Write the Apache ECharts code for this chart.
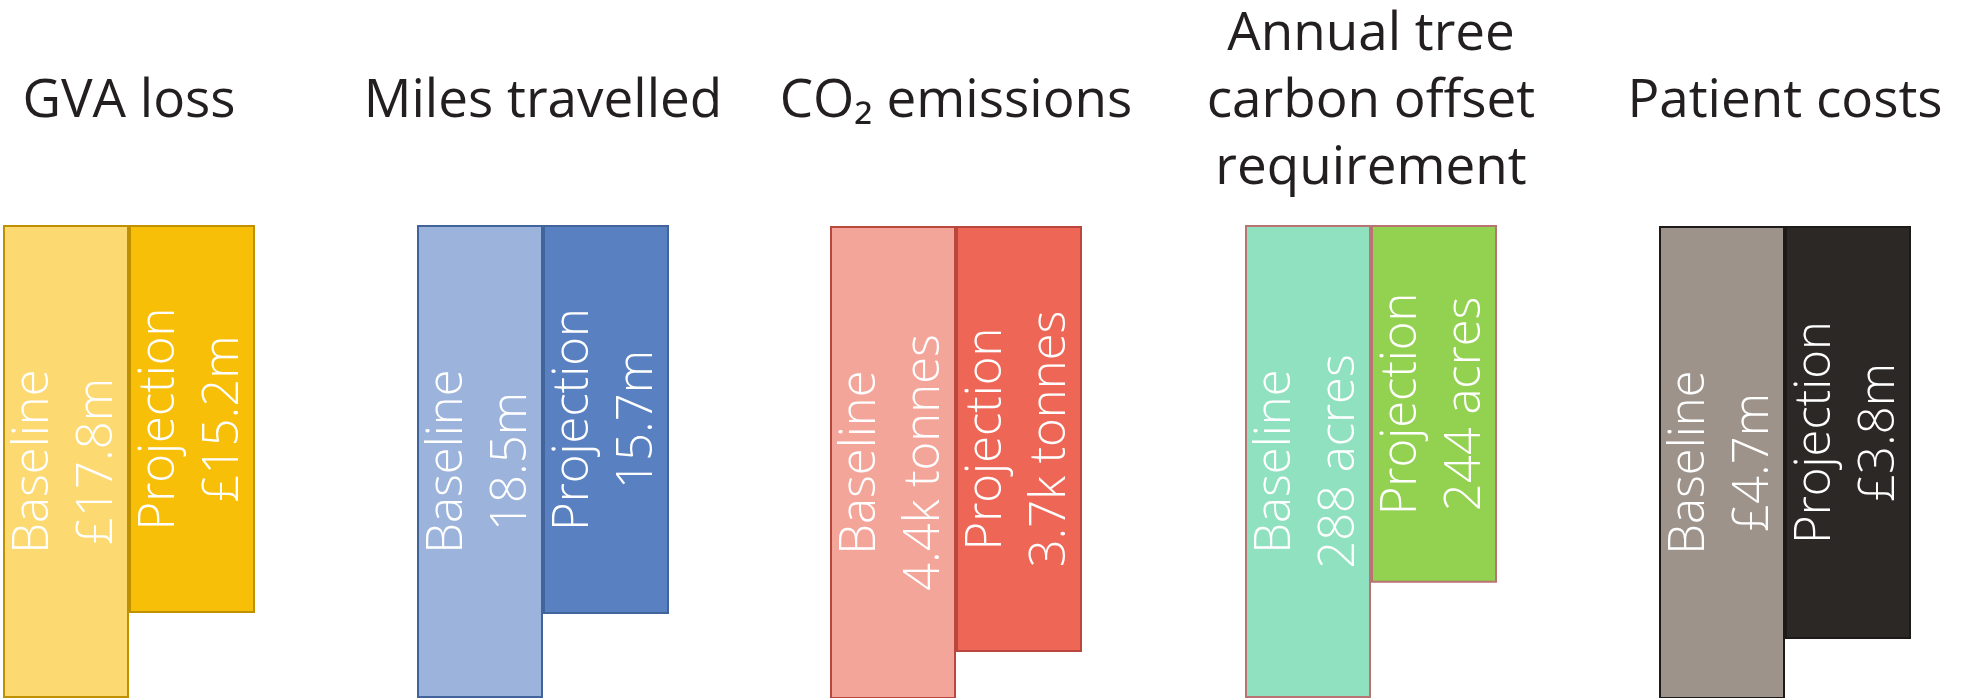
<!DOCTYPE html>
<html>
<head>
<meta charset="utf-8">
<script src="https://cdn.jsdelivr.net/npm/echarts@6/dist/echarts.min.js"></script>
<style>
  html, body { margin: 0; padding: 0; background: #fff; }
  #chart { width: 1961px; height: 698px; }
</style>
</head>
<body>
<div id="chart"></div>
<script>
// one group per measure, baseline vs projection
const categories = ['GVA loss', 'Miles travelled', 'CO\u2082 emissions', 'Annual tree\ncarbon offset\nrequirement', 'Patient costs'];
const baseline = [17.8, 18.5, 4.4, 288, 4.7];
const projection = [15.2, 15.7, 3.7, 244, 3.8];
const prefixes = ['\u00a3', '', '', '', '\u00a3'];
const suffixes = ['m', 'm', 'k tonnes', ' acres', 'm'];
// the graphic is not drawn to a common zero based scale: each group gets its own axis window
// (bars run past the window and get clipped by the grid, like the cropped original)
const axisMin = [3.36, 2.77, 0, 107.7, 0];
const axisMax = [17.8, 18.5, 4.1, 288, 4.343];

const baseColors = ['#FCD971', '#9CB3DB', '#F3A59A', '#90E1C0', '#9D938B'];
const projColors = ['#F8BF08', '#5981C1', '#EE6656', '#93D150', '#2C2826'];
const borderColors = ['#BF9000', '#41649B', '#B9473D', '#B97372', '#1D1A19'];

const groupLeft = [3, 417, 830, 1245, 1659];
const groupWidth = 252;

const fontFamily = '"Open Sans", "Noto Sans", sans-serif';

const grid = [], xAxis = [], yAxis = [], series = [];

categories.forEach((name, i) => {
  grid.push({ left: groupLeft[i], width: groupWidth, top: 226, bottom: 0 });
  xAxis.push({
    type: 'category',
    gridIndex: i,
    position: 'top',
    data: [name],
    axisLine: { show: false },
    axisTick: { show: false },
    axisLabel: {
      interval: 0,
      margin: 124,
      verticalAlign: 'middle',
      color: '#231F20',
      fontFamily: fontFamily,
      fontSize: 53,
      lineHeight: 67
    }
  });
  yAxis.push({
    type: 'value',
    gridIndex: i,
    inverse: true,
    min: axisMin[i],
    max: axisMax[i],
    show: false
  });

  const mkLabel = (title, v) => ({
    show: true,
    position: 'inside',
    rotate: 90,
    color: '#fff',
    fontFamily: fontFamily,
    fontWeight: 300,
    fontSize: 49,
    lineHeight: 64,
    formatter: title + '\n' + prefixes[i] + v + suffixes[i]
  });

  series.push({
    type: 'bar',
    name: 'Baseline',
    xAxisIndex: i,
    yAxisIndex: i,
    barGap: '0%',
    barCategoryGap: '0%',
    data: [baseline[i]],
    itemStyle: { color: baseColors[i], borderColor: borderColors[i], borderWidth: 2 },
    label: mkLabel('Baseline', baseline[i]),
    silent: true
  });
  series.push({
    type: 'bar',
    name: 'Projection',
    xAxisIndex: i,
    yAxisIndex: i,
    barGap: '0%',
    barCategoryGap: '0%',
    data: [projection[i]],
    itemStyle: { color: projColors[i], borderColor: borderColors[i], borderWidth: 2 },
    label: mkLabel('Projection', projection[i]),
    silent: true
  });
});

const chart = echarts.init(document.getElementById('chart'));
chart.setOption({
  animation: false,
  backgroundColor: '#fff',
  grid: grid,
  xAxis: xAxis,
  yAxis: yAxis,
  series: series
});
</script>
</body>
</html>
